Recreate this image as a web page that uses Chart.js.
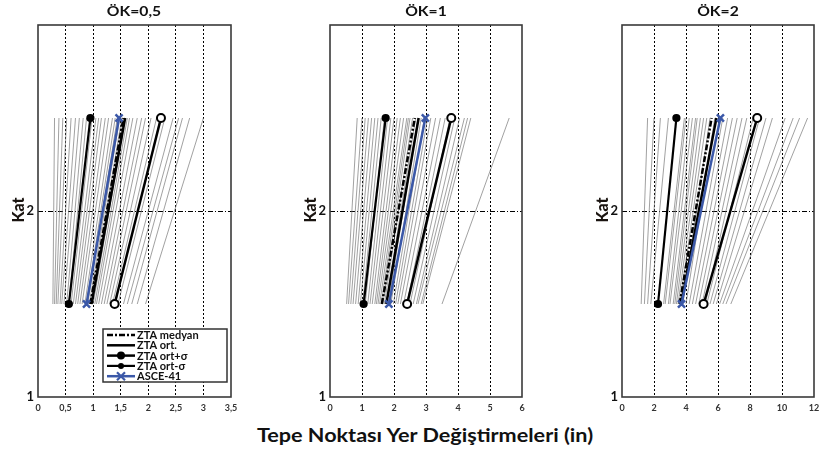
<!DOCTYPE html>
<html>
<head>
<meta charset="utf-8">
<script src="https://cdn.jsdelivr.net/npm/chart.js@4.4.1/dist/chart.umd.min.js"></script>
<style>
  body { margin: 0; background: #fff; width: 826px; height: 450px; position: relative; overflow: hidden; font-family: Lato, "Open Sans", sans-serif; }
  canvas { position: absolute; top: 0; }
  .ttl { position: absolute; top: 2px; font-weight: bold; font-size: 14px; transform: translateX(-50%) scaleX(1.12); white-space: nowrap; color: #111; }
  .kat { position: absolute; top: 210px; font-weight: 900; font-size: 16px; transform: translate(-50%, -50%) rotate(-90deg); color: #1a1410; }
  .xt { position: absolute; top: 424px; left: 425px; transform: translateX(-50%) scaleX(1.2); font-weight: bold; font-size: 18px; white-space: nowrap; color: #111; }
</style>
</head>
<body>
<canvas id="c0" width="245" height="420" style="left:0px"></canvas>
<canvas id="c1" width="245" height="420" style="left:292px"></canvas>
<canvas id="c2" width="242" height="420" style="left:584px"></canvas>
<div class="ttl" style="left:134px">ÖK=0,5</div>
<div class="ttl" style="left:426px">ÖK=1</div>
<div class="ttl" style="left:718px">ÖK=2</div>
<div class="kat" style="left:17px">Kat</div>
<div class="kat" style="left:309px">Kat</div>
<div class="kat" style="left:601px">Kat</div>
<div class="xt">Tepe Noktası Yer Değiştirmeleri (in)</div>
<script>
// kat seviyeleri (alt, üst)
const storyLevels = [1.5, 2.5];
const xMax = [3.5, 6, 12];
const xStep = [0.5, 1, 2];
const seriesLabels = ["ZTA medyan", "ZTA ort.", "ZTA ort+σ", "ZTA ort-σ", "ASCE-41"];

// her panel için [alt, üst] yer değiştirme
const medyan = [[0.95, 1.55], [1.62, 2.65], [3.6, 5.6]];
const ort = [[0.97, 1.58], [1.76, 2.77], [3.7, 5.9]];
const ortPlus = [[1.39, 2.23], [2.41, 3.79], [5.1, 8.45]];
const ortMinus = [[0.56, 0.95], [1.05, 1.74], [2.25, 3.4]];
const asce = [[0.88, 1.47], [1.84, 2.98], [3.72, 6.15]];

// tek tek zaman tanım alanı analizleri (gri çizgiler)
const greyBottom = [
  [0.27, 0.30, 0.33, 0.36, 0.40, 0.43, 0.47, 0.52, 0.56, 0.60, 0.64, 0.68, 0.72, 0.76, 0.80,
   0.85, 0.88, 0.90, 0.93, 0.96, 0.98, 1.00, 1.03, 1.06, 1.10, 1.15, 1.20,
   1.25, 1.30, 1.35, 1.40, 1.45, 1.55, 1.62, 1.70, 1.80, 1.95],
  [0.52, 0.58, 0.65, 0.72, 0.80, 0.88, 0.95, 1.02, 1.10, 1.18, 1.25, 1.32, 1.40, 1.45, 1.50,
   1.55, 1.60, 1.65, 1.70, 1.75, 1.82, 1.90, 1.98, 2.05, 2.12, 2.20, 2.30, 2.40, 2.50, 2.60,
   2.70, 2.75, 2.85, 2.90, 3.50],
  [1.2, 1.4, 1.6, 1.8, 2.6, 2.7, 2.9, 3.0, 3.2, 3.3, 3.4, 3.5, 3.6, 3.8, 4.0, 4.2, 4.4, 4.6,
   4.8, 5.0, 5.2, 5.3, 5.5, 5.7, 5.9, 6.1, 6.3, 6.5, 6.8]
];
const greyTop = [
  [0.30, 0.38, 0.45, 0.52, 0.60, 0.68, 0.75, 0.82, 0.88, 0.98, 1.05, 1.10, 1.15, 1.22, 1.28,
   1.35, 1.40, 1.44, 1.48, 1.52, 1.55, 1.58, 1.62, 1.66, 1.72, 1.80, 1.88,
   1.95, 2.05, 2.15, 2.22, 2.30, 2.45, 2.55, 2.62, 2.75, 3.00],
  [0.85, 1.00, 1.10, 1.20, 1.30, 1.40, 1.50, 1.60, 1.70, 1.80, 1.90, 2.00, 2.10, 2.20, 2.30,
   2.40, 2.45, 2.50, 2.58, 2.68, 2.75, 2.85, 2.95, 3.05, 3.15, 3.30, 3.45, 3.60, 3.75, 3.90,
   4.05, 4.20, 4.30, 4.40, 5.60],
  [1.6, 2.0, 2.4, 2.9, 3.9, 4.0, 4.2, 4.4, 4.6, 4.7, 4.9, 5.1, 5.3, 5.5, 5.8, 6.3, 6.6, 6.9,
   7.2, 7.5, 7.8, 8.2, 8.6, 9.0, 9.4, 10.2, 10.7, 11.1, 11.6]
];

const pts = (pair) => [{ x: pair[0], y: storyLevels[0] }, { x: pair[1], y: storyLevels[1] }];

// çerçeve
const frame = {
  id: "frame",
  afterDraw(chart) {
    const { ctx, chartArea: a } = chart;
    ctx.save();
    ctx.strokeStyle = "#3a3a3a";
    ctx.lineWidth = 1.6;
    ctx.strokeRect(a.left, a.top, a.right - a.left, a.bottom - a.top);
    ctx.restore();
  }
};

// ilk paneldeki lejant
const legendBox = {
  id: "legendBox",
  afterDraw(chart) {
    const ctx = chart.ctx;
    const x0 = 103, y0 = 329, w = 124, h = 53;
    ctx.save();
    ctx.fillStyle = "#fff";
    ctx.fillRect(x0, y0, w, h);
    ctx.strokeStyle = "#333";
    ctx.lineWidth = 1.5;
    ctx.strokeRect(x0, y0, w, h);
    ctx.font = "bold 11px Lato";
    ctx.textBaseline = "middle";
    for (let i = 0; i < 5; i++) {
      const ds = chart.data.datasets[4 - i];
      const y = y0 + 6 + i * 10.3;
      ctx.strokeStyle = ds.borderColor;
      ctx.lineWidth = ds.borderWidth;
      ctx.setLineDash(ds.borderDash || []);
      ctx.beginPath();
      ctx.moveTo(x0 + 4, y);
      ctx.lineTo(x0 + 32, y);
      ctx.stroke();
      ctx.setLineDash([]);
      if (ds.pointRadius > 0) {
        const cx = x0 + 18;
        if (ds.pointStyle === "crossRot") {
          ctx.lineWidth = 2.2;
          ctx.beginPath();
          ctx.moveTo(cx - 4, y - 4); ctx.lineTo(cx + 4, y + 4);
          ctx.moveTo(cx - 4, y + 4); ctx.lineTo(cx + 4, y - 4);
          ctx.stroke();
        } else {
          ctx.fillStyle = ds.borderColor;
          ctx.beginPath();
          ctx.arc(cx, y, ds.pointRadius, 0, Math.PI * 2);
          ctx.fill();
        }
      }
      ctx.fillStyle = "#111";
      ctx.fillText(ds.label, x0 + 34, y + 0.5);
    }
    ctx.restore();
  }
};

function makePanel(i) {
  const datasets = [
    { label: seriesLabels[4], data: pts(asce[i]), borderColor: "#3b58a8", borderWidth: 2.5,
      pointStyle: "crossRot", pointRadius: 5, pointBorderWidth: 2.5, pointBorderColor: "#3b58a8" },
    { label: seriesLabels[3], data: pts(ortMinus[i]), borderColor: "#000", borderWidth: 2.2,
      pointRadius: 3, pointBackgroundColor: "#000", pointBorderColor: "#000" },
    { label: seriesLabels[2], data: pts(ortPlus[i]), borderColor: "#000", borderWidth: 2.5,
      pointRadius: 4, pointBackgroundColor: "#fff", pointBorderColor: "#000", pointBorderWidth: 2 },
    { label: seriesLabels[1], data: pts(ort[i]), borderColor: "#000", borderWidth: 2.5, pointRadius: 0 },
    { label: seriesLabels[0], data: pts(medyan[i]), borderColor: "#000", borderWidth: 2.5,
      borderDash: [6, 2, 2, 2], pointRadius: 0 }
  ];
  greyBottom[i].forEach((b, k) => {
    datasets.push({ label: "", data: pts([b, greyTop[i][k]]), borderColor: "rgba(110,110,110,0.65)",
      borderWidth: 1, pointRadius: 0 });
  });

  const padRight = [14, 15, 12][i];
  return new Chart(document.getElementById("c" + i), {
    type: "scatter",
    data: { datasets },
    plugins: i === 0 ? [frame, legendBox] : [frame],
    options: {
      responsive: false,
      animation: false,
      showLine: true,
      layout: { padding: { top: 25, right: padRight, left: 0, bottom: 0 } },
      plugins: { legend: { display: false }, tooltip: { enabled: false } },
      scales: {
        x: {
          min: 0, max: xMax[i],
          afterFit: (s) => { s.height = 23; },
          ticks: {
            stepSize: xStep[i], padding: 6, color: "#333",
            font: { size: 9, weight: "bold", family: "Lato" },
            callback: (v) => String(v).replace(".", ",")
          },
          grid: {
            drawTicks: false,
            color: (c) => (c.tick && c.tick.value > 0 && c.tick.value < xMax[i]) ? "#000" : "transparent",
            lineWidth: 1
          },
          border: { display: false, dash: [2, 2] }
        },
        y: {
          min: 1, max: 3,
          afterFit: (s) => { s.width = 38; },
          ticks: {
            stepSize: 1, padding: 4, color: "#111",
            font: { size: 13, weight: "bold", family: "Lato" },
            callback: (v) => (v === 3 ? "" : v)
          },
          grid: {
            drawTicks: false,
            color: (c) => (c.tick && c.tick.value === 2) ? "#000" : "transparent",
            lineWidth: 1
          },
          border: { display: false, dash: [5, 2, 1, 2] }
        }
      }
    }
  });
}

[0, 1, 2].forEach(makePanel);
</script>
</body>
</html>
